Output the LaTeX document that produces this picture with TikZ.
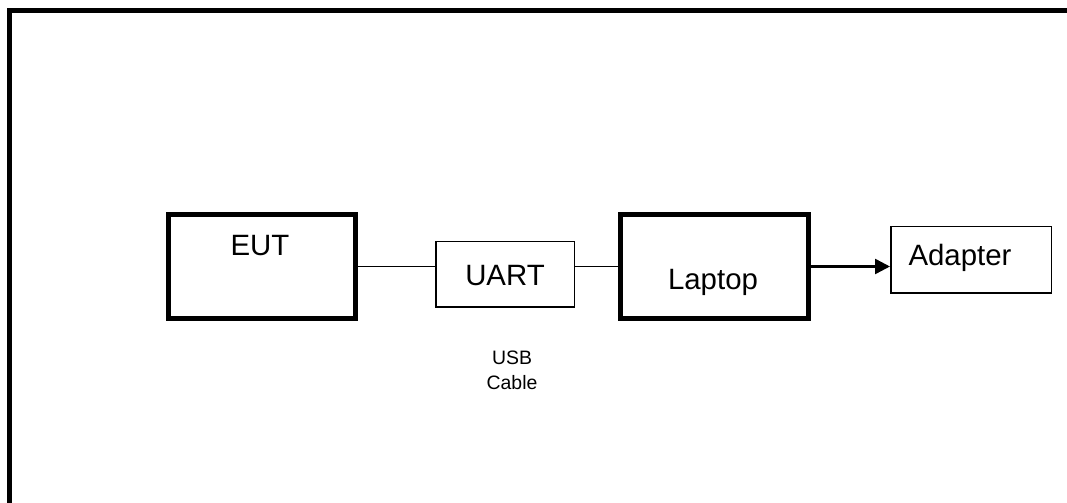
\documentclass[tikz,border=0pt]{standalone}
\usepackage{fontspec}
\setmainfont{Liberation Sans}
\usetikzlibrary{arrows.meta}
\begin{document}
\begin{tikzpicture}[x=1bp,y=-1bp,
		line join = miter,>={Triangle[length=15bp,width=15bp]},
		hcnday/.style={rectangle,draw = black,line width=5bp,inner sep=0pt, minimum width=187bp, minimum height=104bp},
		hcnmong/.style={rectangle,draw = black,line width=1.5bp,inner sep=0pt},
		chu/.style={inner sep=0pt,font=\fontsize{29.5}{35}\selectfont,text height=21bp,text depth=0pt},
		chunho/.style={inner sep=0pt,align=center,font=\fontsize{19.5}{25}\selectfont}]
	\useasboundingbox (0,0) rectangle (1067,503);
	\draw[line width=5.5bp] (9.5,10.3) rectangle (1080,520);
	\node at (262,266.5) (nodeEUT) [hcnday] {};
	\node at (505,274.5) (nodeUART) [hcnmong, minimum width=138.5bp, minimum height=65.5bp] {};
	\node at (714.5,266.5) (nodeLaptop) [hcnday, minimum width=188bp] {};
	\node at (971,260) (nodeAdapter) [hcnmong, minimum width=160.5bp, minimum height=66.5bp] {};
	\node at (260,245) (txtEUT) [chu] {EUT};
	\node at (505,275) (txtUART) [chu] {UART};
	\node at (713,279) (txtLaptop) [chu] {Laptop};
	\node at (960,255) (txtAdapter) [chu] {Adapter};
	\node at (512,370) (txtUSB) [chunho] {USB\\Cable};
	\draw[line width=1.5bp] (nodeEUT.east) -- (nodeEUT.east -| nodeUART.west);
	\draw[line width=1.5bp] (nodeUART.east |- nodeLaptop.west) -- (nodeLaptop.west);
	\draw[->,line width=2.5bp] (nodeLaptop.east) -- (nodeLaptop.east -| nodeAdapter.west);
\end{tikzpicture}
\end{document}
